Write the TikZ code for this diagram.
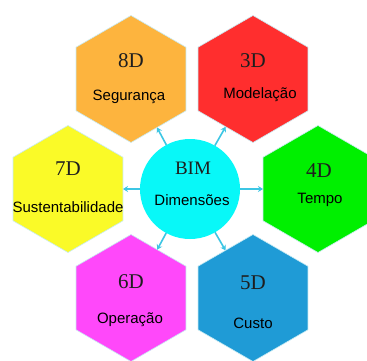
\documentclass[tikz,border=0pt]{standalone}
\usepackage{fontspec}
\setmainfont{Liberation Serif}
\setsansfont{Liberation Sans}
\usetikzlibrary{shapes.geometric,arrows.meta}
\definecolor{c8}{HTML}{FDB43E}
\definecolor{c3}{HTML}{FF2E2E}
\definecolor{c7}{HTML}{FAFA28}
\definecolor{c4}{HTML}{00F000}
\definecolor{c6}{HTML}{FF48FA}
\definecolor{c5}{HTML}{1F9BD6}
\definecolor{cbim}{HTML}{08F8F8}
\definecolor{arrc}{HTML}{3CC6E4}
\definecolor{edgec}{HTML}{C8ECF4}
\definecolor{txt}{HTML}{1E1E1E}
\begin{document}
\begin{tikzpicture}[x=1pt,y=-1pt,
  hexa/.style={regular polygon, regular polygon sides=6, shape border rotate=30,
    minimum size=127pt, inner sep=0pt, outer sep=0pt, draw=edgec, line width=0.6pt},
  dimlab/.style={anchor=base, inner sep=0pt, font=\fontsize{21}{21}\selectfont\rmfamily, text=txt},
  namelab/.style={anchor=base, inner sep=0pt, font=\fontsize{15}{15}\selectfont\sffamily, text=black},
  arr/.style={-{Stealth[length=5pt,width=6pt]}, line width=1.6pt, draw=arrc}]
\clip (0,0) rectangle (367,360);
\fill[white] (0,0) rectangle (367,360);
% hexagons
\node[hexa, fill=c8] (h8) at (131,79) {};
\node[hexa, fill=c3] (h3) at (253,79) {};
\node[hexa, fill=c7] (h7) at (68,189) {};
\node[hexa, fill=c4] (h4) at (318,189) {};
\node[hexa, fill=c6] (h6) at (131,298) {};
\node[hexa, fill=c5] (h5) at (253,298) {};
% centre circle
\node[circle, fill=cbim, minimum size=100pt, inner sep=0pt, outer sep=0pt] (bim) at (190,189) {};
% arrows
\draw[arr] (bim) -- (h8);
\draw[arr] (bim) -- (h3);
\draw[arr] (bim) -- (h7);
\draw[arr] (bim) -- (h4);
\draw[arr] (bim) -- (h6);
\draw[arr] (bim) -- (h5);
% labels
\node[dimlab] (t8) at (131,67) {8D};
\node[namelab] (n8) at (129,100) {Segurança};
\node[dimlab] (t3) at (253,67) {3D};
\node[namelab] (n3) at (260,98) {Modelação};
\node[dimlab] (t7) at (68,175) {7D};
\node[namelab] (n7) at (68,212) {Sustentabilidade};
\node[dimlab] (t4) at (319,177) {4D};
\node[namelab] (n4) at (320,203) {Tempo};
\node[dimlab] (t6) at (131,288) {6D};
\node[namelab] (n6) at (130,323) {Operação};
\node[dimlab] (t5) at (253,289) {5D};
\node[namelab] (n5) at (253,328) {Custo};
\node[dimlab, font=\fontsize{19}{19}\selectfont\rmfamily] (tb) at (193,174) {BIM};
\node[namelab] (nb) at (192,205) {Dimensões};
\end{tikzpicture}
\end{document}
